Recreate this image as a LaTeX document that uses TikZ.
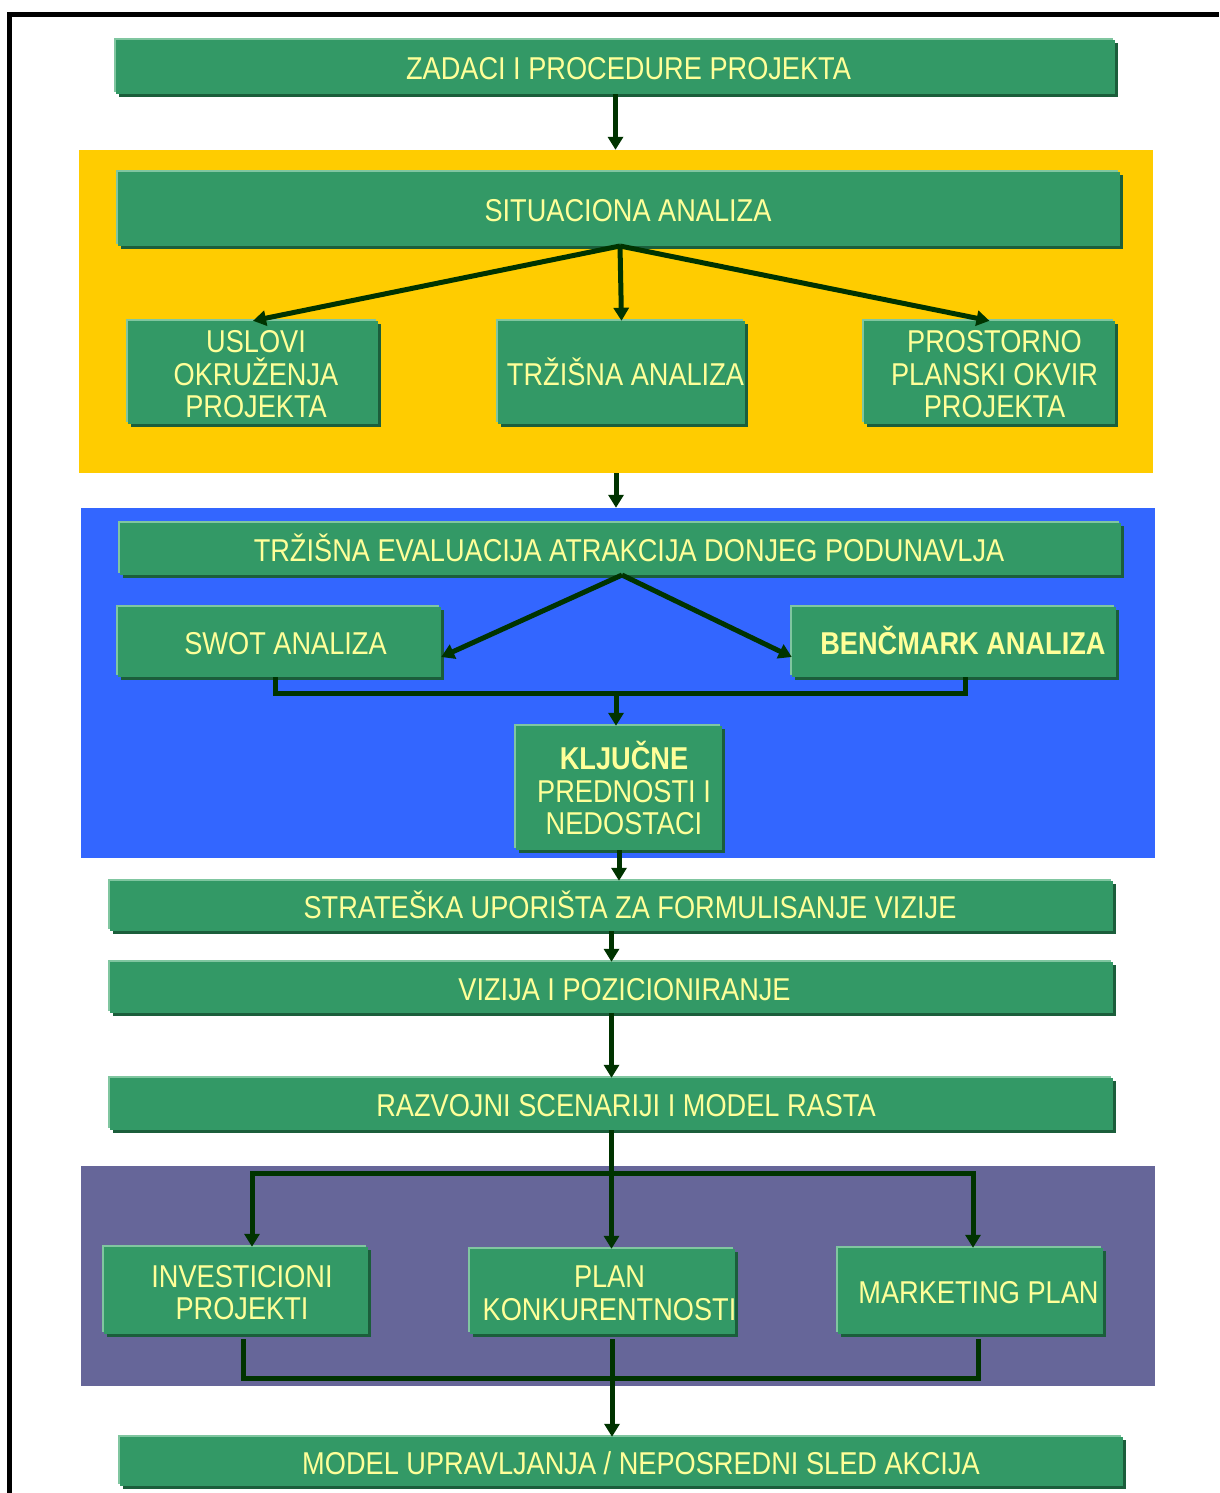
\documentclass[tikz,border=0pt]{standalone}
\usepackage{fontspec}
\newfontfamily\boxfont{Liberation Sans}[FakeStretch=0.86]
\usetikzlibrary{shadows,arrows.meta}
\definecolor{gmain}{HTML}{339966}
\definecolor{glight}{HTML}{80C6A0}
\definecolor{gdark}{HTML}{1B5E3B}
\definecolor{ltxt}{HTML}{FFFF99}
\definecolor{lnk}{HTML}{003300}
\definecolor{cyel}{HTML}{FFCC00}
\definecolor{cblue}{HTML}{3366FF}
\definecolor{cpurp}{HTML}{666699}
\begin{document}
\begin{tikzpicture}[x=1pt,y=-1pt,
 box/.style={fill=gmain,
   general shadow={shadow xshift=-2pt,shadow yshift=2pt,fill=glight},
   general shadow={shadow xshift=3pt,shadow yshift=-3pt,fill=gdark},
   text=ltxt, font=\boxfont\fontsize{31.6}{32.5}\selectfont, align=center, inner sep=0pt},
 one/.style={text height=25pt, text depth=0pt},
 lbl/.style={text=ltxt, font=\boxfont\fontsize{31.6}{32.5}\selectfont, align=center, inner sep=0pt},
 sz/.style 2 args={minimum width=#1pt, minimum height=#2pt},
 tx/.style={execute at begin node={\hspace*{#1pt}}},
 panel/.style={fill=#1, inner sep=0pt, draw=none},
 conn/.style={draw=lnk, line width=5pt, -{Triangle[width=15pt,length=13pt]}},
 link/.style={draw=lnk, line width=5pt},
]
\useasboundingbox (0,0) rectangle (1219,1493);
% frame
\draw[line width=5pt, line cap=butt] (9.5,1493) -- (9.5,14.3) -- (1219,14.3);
% panels
\node[panel=cyel, sz={1074}{323}] (ypan) at (616,311.5) {};
\node[panel=cblue, sz={1074}{350}] (bpan) at (618,683) {};
\node[panel=cpurp, sz={1074}{220}] (ppan) at (618,1276) {};
% boxes
\node[box, one, tx=26, sz={999}{54}] (zad) at (615.5,67) {ZADACI I PROCEDURE PROJEKTA};
\node[box, one, tx=18, sz={1002}{74}] (sit) at (619,209) {SITUACIONA ANALIZA};
\node[box, sz={250}{103}, label={[lbl, xshift=3pt, yshift=-2pt]center:USLOVI\\OKRUŽENJA\\PROJEKTA}] (usl) at (253,372.5) {};
\node[box, one, tx=8, sz={247}{103}] (trz) at (621.5,372.5) {TRŽIŠNA ANALIZA};
\node[box, sz={251}{103}, label={[lbl, xshift=5pt, yshift=-2pt]center:PROSTORNO\\PLANSKI OKVIR\\PROJEKTA}] (pro) at (989.5,372.5) {};
\node[box, one, tx=17, sz={1001}{52}] (eva) at (620.5,549) {TRŽIŠNA EVALUACIJA ATRAKCIJA DONJEG PODUNAVLJA};
\node[box, one, tx=12, sz={323}{70}] (swot) at (279.5,642) {SWOT ANALIZA};
\node[box, one, tx=18, sz={324}{70}] (ben) at (954,642) {\bfseries BENČMARK ANALIZA};
\node[box, sz={206}{124}, label={[lbl, xshift=5pt, yshift=0pt]center:{\bfseries KLJUČNE}\\PREDNOSTI I\\NEDOSTACI}] (klj) at (619,788) {};
\node[box, one, tx=37, sz={1003}{50}] (str) at (611.5,906) {STRATEŠKA UPORIŠTA ZA FORMULISANJE VIZIJE};
\node[box, one, tx=26, sz={1003}{51}] (viz) at (611.5,987.5) {VIZIJA I POZICIONIRANJE};
\node[box, one, tx=29, sz={1003}{52}] (raz) at (611.5,1104) {RAZVOJNI SCENARIJI I MODEL RASTA};
\node[box, sz={264}{87}, label={[lbl, xshift=6pt, yshift=-2pt]center:INVESTICIONI\\PROJEKTI}] (inv) at (236,1290.5) {};
\node[box, sz={265}{85}, label={[lbl, xshift=7pt, yshift=-2pt]center:PLAN\\KONKURENTNOSTI}] (plan) at (602.5,1291.5) {};
\node[box, one, tx=16, sz={265}{86}] (mkt) at (970.5,1291) {MARKETING PLAN};
\node[box, one, tx=39, sz={1003}{49}] (model) at (621.5,1461.5) {MODEL UPRAVLJANJA / NEPOSREDNI SLED AKCIJA};
% connectors
\draw[conn] (zad.south) -- (zad.south |- ypan.north);
\coordinate (sapex) at (620,246);
\draw[conn] (sapex) -- (usl.north);
\draw[conn] (sapex) -- (trz.north);
\draw[conn] (sapex) -- (pro.north);
\draw[conn] (ypan.south) -- (ypan.south |- bpan.north);
\coordinate (eapex) at (622,575);
\draw[conn] (eapex) -- ([yshift=-15pt]swot.east);
\draw[conn] (eapex) -- ([yshift=-15pt]ben.west);
\coordinate (sj) at (616,693);
\draw[link] ([xshift=-4.5pt]swot.south) |- (sj) -| ([xshift=11pt]ben.south);
\draw[conn] (sj) -- (sj |- klj.north);
\draw[conn] (klj.south) -- (klj.south |- str.north);
\draw[conn] (str.south) -- (str.south |- viz.north);
\draw[conn] (viz.south) -- (viz.south |- raz.north);
\draw[conn] (raz.south) -- (raz.south |- plan.north);
\coordinate (rj) at (611.5,1173);
\draw[conn] (rj) -| ([xshift=16pt]inv.north);
\draw[conn] (rj) -| ([xshift=2.5pt]mkt.north);
\coordinate (bj) at (612,1378);
\draw[link] ([xshift=7pt,yshift=-5pt]inv.south) |- (bj) -| ([xshift=7.5pt,yshift=-5pt]mkt.south);
\draw[conn] (bj |- plan.south) ++(0,5) -- (bj |- model.north);
\end{tikzpicture}
\end{document}
